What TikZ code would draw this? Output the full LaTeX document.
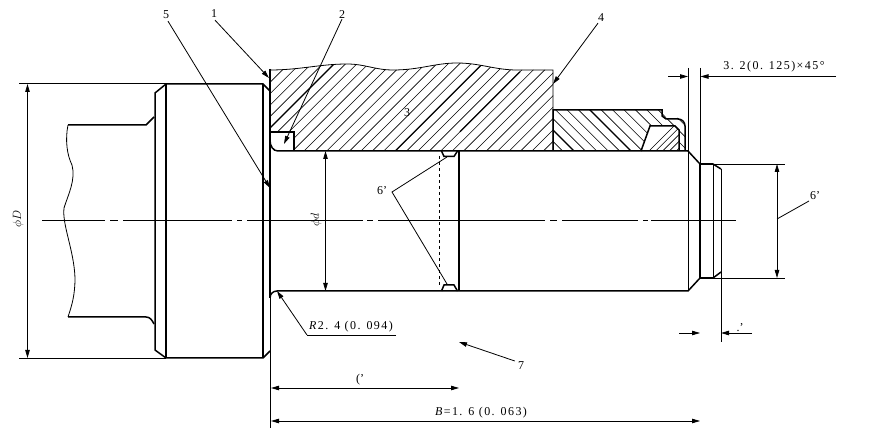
\documentclass[tikz,border=0pt]{standalone}
\usepackage{fontspec}
\setmainfont{Liberation Serif}
\newfontfamily\dimfont[LetterSpace=12]{Liberation Serif}
\usepackage{tikz}
\usetikzlibrary{arrows.meta, positioning, calc}
\tikzset{
  thickline/.style={black,line width=1.5pt},
  thinline/.style={black,line width=0.8pt},
  dimline/.style={thinline,{Triangle[length=8pt,width=4.5pt]}-{Triangle[length=8pt,width=4.5pt]}},
  leaderline/.style={thinline,-{Triangle[length=8pt,width=4.5pt]}},
  hatchline/.style={black,line width=0.6pt},
  heavyhatch/.style={black,line width=1.2pt},
  partlabel/.style={inner sep=0pt,font=\fontsize{12}{12}\selectfont},
  dimlabel/.style={inner sep=0pt,font=\fontsize{12}{12}\selectfont\dimfont},
}
\begin{document}
\begin{tikzpicture}[x=1pt,y=-1pt]
\useasboundingbox (0,0) rectangle (881,435);
% center line
\draw[thinline] (42,220.5) -- (105,220.5) (110,220.5) -- (118,220.5) (123,220.5) -- (232,220.5)
  (237,220.5) -- (242,220.5) (247,220.5) -- (363,220.5) (367,220.5) -- (373,220.5) (378,220.5) -- (545,220.5)
  (550,220.5) -- (557,220.5) (562,220.5) -- (638,220.5) (643,220.5) -- (648,220.5) (651,220.5) -- (736,220.5);
% upper block hatching
\begin{scope}
\clip (270,70) .. controls (300,70) and (320,64) .. (347,64) .. controls (365,64) and (375,70) .. (393,70)
  .. controls (420,70) and (435,63) .. (457,63) .. controls (480,63) and (495,70) .. (517,70) -- (553,70)
  -- (553,151) -- (294,151) -- (294,132) -- (270,132) -- cycle;
\foreach \k in {-8,...,26} {
  \draw[hatchline] ({398+11.4*\k-200},200) -- ({398+11.4*\k},0);
}
\draw[heavyhatch] (198,200) -- (398,0);
\draw[heavyhatch] (346.2,200) -- (546.2,0);
\draw[heavyhatch] (460,131.8) -- (520,71.8);
\end{scope}
\draw[thinline] (270,70) .. controls (300,70) and (320,64) .. (347,64) .. controls (365,64) and (375,70) .. (393,70)
  .. controls (420,70) and (435,63) .. (457,63) .. controls (480,63) and (495,70) .. (517,70) -- (553,70) -- (553,151);
% lower block hatching
\begin{scope}
\clip (553,110) -- (662,110) -- (666,118) -- (678,118) -- (685,125) -- (685,151) -- (679,151) -- (679,130)
  -- (675,126) -- (650,126) -- (641,151) -- (553,151) -- cycle;
\foreach \k in {-6,...,22} {
  \draw[hatchline] ({423+11.4*\k},0) -- ({423+11.4*\k+200},200);
}
\draw[heavyhatch] (423,0) -- (623,200);
\draw[heavyhatch] (480,0) -- (680,200);
\end{scope}
% seal hatching
\begin{scope}
\clip (641,151) -- (650,126) -- (675,126) -- (679,130) -- (679,151) -- cycle;
\foreach \k in {0,...,12} {
  \draw[hatchline] ({700+6.8*\k},100) -- ({700+6.8*\k-60},160);
}
\end{scope}
\draw[thickline] (553,151) -- (553,110) -- (662,110) -- (662,116) -- (666,119) -- (678,119)
  .. controls (682,119) and (685,122) .. (685,126) -- (685,151);
\draw[thickline] (641,151) -- (650,126) -- (675,126) -- (679,130) -- (679,151);
% flange
\draw[thickline] (166,84) -- (263,84) -- (270,91);
\draw[thickline] (166,358) -- (263,358) -- (270,351);
\draw[thickline] (166,84) -- (166,358);
\draw[thickline] (263,84) -- (263,358);
\draw[thickline] (166,84) -- (155,93) -- (155,350) -- (166,358);
\draw[thickline] (270,69) -- (270,298);
% shank with break line
\draw[thickline] (68,125) -- (146,125) -- (154,117);
\draw[thickline] (68,317) -- (146,317) .. controls (150,317) and (152,320) .. (154,324);
\draw[thinline] (68,125) .. controls (65,140) and (67,155) .. (72,165) .. controls (76,180) and (68,195) .. (64,208)
  .. controls (62,225) and (74,250) .. (75,278) .. controls (75,295) and (72,305) .. (68,317);
% shaft
\draw[thickline] (270,140) .. controls (270,146) and (273,151) .. (278,151) -- (688,151) -- (700,164) -- (713,164) -- (721,169);
\draw[thickline] (270,298) .. controls (270,294) and (273,291) .. (277,291) -- (688,291) -- (700,278) -- (713,278) -- (721,272);
\draw[thickline] (700,164) -- (700,278);
\draw[thinline] (713,164) -- (713,278);
\draw[thinline] (721,169) -- (721,342);
% seal notch
\draw[thickline] (270,132) -- (294,132) -- (294,151);
% groove
\draw[thickline] (459,151) -- (459,291);
\draw[thinline,dashed] (439.5,156) -- (439.5,285);
\draw[thickline] (441.5,151) -- (444,156.5) -- (454,156.5) -- (457.5,151);
\draw[thickline] (441.5,291) -- (444,285) -- (454,285) -- (457.5,291);
% extension lines
\draw[thinline] (19,83.5) -- (166,83.5);
\draw[thinline] (19,358.5) -- (166,358.5);
\draw[thinline] (270.5,298) -- (270.5,428);
\draw[thinline] (688,68) -- (688,290);
\draw[thinline] (700.5,68) -- (700.5,164);
\draw[thinline] (700,164) -- (785,164);
\draw[thinline] (700,278) -- (785,278);
% dimensions
\coordinate (dtop) at (27.5,84);
\coordinate (dbot) at (27.5,358);
\draw[dimline] (dtop) -- (dbot);
\node[partlabel,rotate=90] (dlabel) at (18,219) {$\phi D$};
\coordinate (stop) at (325.5,151);
\coordinate (sbot) at (325.5,291);
\draw[dimline] (stop) -- (sbot);
\node[partlabel,rotate=90] (slabel) at (316,220) {$\phi d$};
\coordinate (etop) at (777,164);
\coordinate (ebot) at (777,278);
\draw[dimline] (etop) -- (ebot);
\coordinate (cl) at (271,388);
\coordinate (cr) at (459,388);
\draw[dimline] (cl) -- (cr);
\node[partlabel] (clabel) at (360,380) {('};
\coordinate (bl) at (271,421);
\coordinate (br) at (700,421);
\draw[dimline] (bl) -- (br);
\node[dimlabel] (blabel) at (481,413) {\textit{B}=1. 6\ (0. 063)};
% chamfer dimension
\coordinate (chl) at (668,76.5);
\coordinate (chm) at (688,76.5);
\coordinate (chn) at (700.5,76.5);
\coordinate (chr) at (836,76.5);
\draw[leaderline] (chl) -- (chm);
\draw[leaderline] (chr) -- (chn);
\node[dimlabel] (chlabel) at (774,67) {3. 2(0. 125)×45°};
% width dimension
\coordinate (wl) at (679,333);
\coordinate (wm) at (700,333);
\coordinate (wn) at (721,333);
\coordinate (wr) at (752,333);
\draw[leaderline] (wl) -- (wm);
\draw[leaderline] (wr) -- (wn);
\node[partlabel] (wlabel) at (740,328) {.'};
% leaders
\node[partlabel] (n5) at (166,15) {5};
\coordinate (p5) at (270,188);
\draw[leaderline] (n5.south) ++(2,2) -- (p5);
\node[partlabel] (n1) at (214,14) {1};
\coordinate (p1) at (269,78);
\draw[leaderline] (n1.south) ++(1,2) -- (p1);
\node[partlabel] (n2) at (342,15) {2};
\coordinate (p2) at (284,144);
\draw[leaderline] (n2.south) -- (p2);
\node[partlabel] (n3) at (407,113) {3};
\node[partlabel] (n4) at (601,18) {4};
\coordinate (p4) at (553,84);
\draw[leaderline] (n4.south) ++(-3,1) -- (p4);
\node[partlabel] (n7) at (521,366) {7};
\coordinate (p7) at (459,342);
\draw[leaderline] (n7.west) ++(-3,-5) -- (p7);
% groove leaders
\node[partlabel] (n6) at (382,191) {6'};
\coordinate (fork) at (392,192);
\coordinate (gtop) at (447,157);
\coordinate (gbot) at (447,284);
\draw[thinline] (gtop) -- (fork) -- (gbot);
% diameter leader
\node[partlabel] (n6b) at (815,196) {6'};
\coordinate (ehalf) at (777,219);
\draw[thinline] (ehalf) -- (809,201);
% radius label
\node[dimlabel] (rlabel) at (351,327) {\textit{R}2. 4 (0. 094)};
\coordinate (ru) at (396,335);
\coordinate (rv) at (307,335);
\coordinate (rp) at (277,291);
\draw[thinline] (ru) -- (rv);
\draw[leaderline] (rv) -- (rp);
\end{tikzpicture}
\end{document}
